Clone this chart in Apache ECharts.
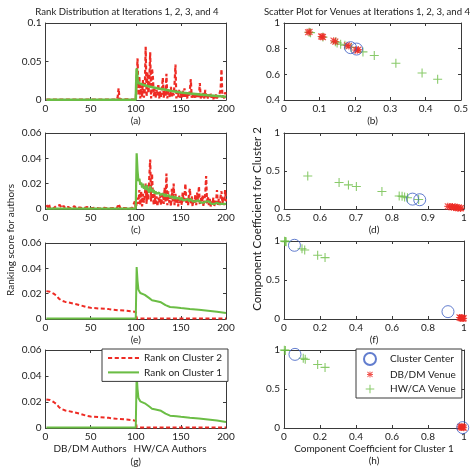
<!DOCTYPE html>
<html>
<head>
<meta charset="utf-8">
<script src="https://cdn.jsdelivr.net/npm/echarts@6/dist/echarts.min.js"></script>
<style>
html, body { margin: 0; padding: 0; background: #fff; }
#chart { width: 471px; height: 474px; }
</style>
</head>
<body>
<div id="chart"></div>
<script>
// ---- data ----
// left column: ranking score per author (authors 1..200)
// sparse parts are [author, score] pairs, dense parts are scores for authors 101..200
var redALow = [[1,0.0005],[40,0.0005],[79,0.0005],[80,0.004],[81,0.015],[82,0.001],[83,0.0005],[100,0.0005]];
var redAHigh = [
  0.003, 0.054, 0.006, 0.031, 0.002, 0.019, 0.004, 0.026, 0.003, 0.013,
  0.069, 0.004, 0.036, 0.009, 0.021, 0.062, 0.002, 0.041, 0.030, 0.005,
  0.016, 0.003, 0.013, 0.006, 0.021, 0.002, 0.011, 0.004, 0.015, 0.029,
  0.003, 0.012, 0.005, 0.034, 0.002, 0.013, 0.008, 0.004, 0.017, 0.003,
  0.011, 0.006, 0.021, 0.046, 0.002, 0.010, 0.004, 0.013, 0.003, 0.009,
  0.002, 0.012, 0.004, 0.015, 0.003, 0.008, 0.002, 0.010, 0.004, 0.013,
  0.027, 0.003, 0.009, 0.002, 0.007, 0.003, 0.010, 0.002, 0.008, 0.004,
  0.022, 0.002, 0.007, 0.003, 0.009, 0.002, 0.013, 0.003, 0.006, 0.002,
  0.007, 0.002, 0.008, 0.003, 0.006, 0.001, 0.005, 0.002, 0.007, 0.002,
  0.005, 0.003, 0.009, 0.013, 0.040, 0.003, 0.007, 0.002, 0.010, 0.004
];
var greenA = [[1,0.0004],[79,0.0004],[81,0.0015],[83,0.0004],[100,0.0004],[101,0.041],[102,0.027],[103,0.022],
  [105,0.020],[110,0.019],[115,0.0175],[120,0.0163],[125,0.015],[130,0.014],[140,0.0118],[150,0.0098],
  [160,0.0085],[170,0.0073],[180,0.0062],[190,0.0052],[200,0.0042]];

var redCLow = [[1,0.003],[2,0.004],[3,0.001],[4,0.0035],[5,0.0005],[7,0.002],[9,0.0005],[12,0.0025],[14,0.001],
  [16,0.003],[18,0.0008],[20,0.0025],[22,0.0006],[25,0.0015],[28,0.0004],[32,0.0022],[34,0.0005],[38,0.0012],
  [42,0.0004],[46,0.0015],[50,0.0005],[55,0.001],[60,0.0004],[65,0.0009],[70,0.0004],[75,0.0008],[79,0.0004],
  [81,0.004],[83,0.0005],[88,0.0008],[92,0.0003],[96,0.0007],[99,0.006],[100,0.0005]];
var redCHigh = [
  0.002, 0.009, 0.004, 0.015, 0.003, 0.014, 0.002, 0.012, 0.005, 0.010,
  0.020, 0.004, 0.019, 0.007, 0.025, 0.039, 0.006, 0.028, 0.011, 0.003,
  0.012, 0.004, 0.010, 0.002, 0.009, 0.005, 0.011, 0.003, 0.008, 0.013,
  0.004, 0.017, 0.006, 0.028, 0.003, 0.014, 0.005, 0.010, 0.002, 0.016,
  0.006, 0.020, 0.003, 0.012, 0.004, 0.009, 0.002, 0.011, 0.005, 0.008,
  0.003, 0.013, 0.006, 0.010, 0.020, 0.004, 0.009, 0.003, 0.012, 0.016,
  0.004, 0.010, 0.002, 0.008, 0.005, 0.011, 0.003, 0.013, 0.006, 0.018,
  0.003, 0.009, 0.005, 0.011, 0.002, 0.007, 0.012, 0.026, 0.004, 0.010,
  0.003, 0.008, 0.002, 0.006, 0.004, 0.009, 0.002, 0.007, 0.005, 0.015,
  0.003, 0.008, 0.002, 0.010, 0.014, 0.004, 0.009, 0.003, 0.015, 0.006
];
var greenCLow = [[1,0.0003],[79,0.0003],[81,0.0012],[83,0.0003],[100,0.0003]];
var greenCHigh = [
  0.044, 0.030, 0.022, 0.024, 0.019, 0.021, 0.017, 0.020, 0.016, 0.018,
  0.015, 0.019, 0.016, 0.017, 0.013, 0.018, 0.014, 0.016, 0.013, 0.015,
  0.012, 0.014, 0.012, 0.013, 0.011, 0.013, 0.011, 0.012, 0.010, 0.012,
  0.011, 0.010, 0.012, 0.010, 0.011, 0.009, 0.011, 0.009, 0.010, 0.009,
  0.010, 0.008, 0.009, 0.010, 0.008, 0.009, 0.008, 0.009, 0.007, 0.008,
  0.009, 0.007, 0.008, 0.008, 0.007, 0.008, 0.007, 0.008, 0.006, 0.007,
  0.008, 0.007, 0.006, 0.007, 0.007, 0.006, 0.007, 0.006, 0.007, 0.006,
  0.006, 0.005, 0.006, 0.006, 0.005, 0.006, 0.005, 0.006, 0.005, 0.005,
  0.006, 0.005, 0.005, 0.004, 0.005, 0.005, 0.004, 0.005, 0.004, 0.005,
  0.004, 0.005, 0.004, 0.004, 0.005, 0.004, 0.003, 0.004, 0.004, 0.004
];

// final iteration (panels e and g)
var redFinal = [[1,0.022],[5,0.0215],[9,0.020],[12,0.0185],[15,0.016],[18,0.0145],[22,0.0135],[27,0.0128],
  [32,0.012],[38,0.011],[45,0.0095],[50,0.0088],[60,0.0083],[70,0.0078],[80,0.007],[90,0.0065],[97,0.006],
  [100,0.0055],[101,0.0004],[200,0.0004]];
var greenFinal = [[1,0.0003],[79,0.0003],[81,0.0018],[83,0.0003],[100,0.0003],[101,0.041],[102,0.030],[103,0.023],
  [105,0.0205],[110,0.019],[115,0.0165],[118,0.0148],[122,0.0142],[128,0.0132],[133,0.011],[138,0.0095],
  [145,0.009],[150,0.0086],[160,0.0079],[170,0.0073],[180,0.0065],[190,0.0057],[200,0.0047]];

// right column: venues as [coef cluster 1, coef cluster 2]
var centerB = [[0.188,0.808],[0.205,0.797]];
var dbdmB = [[0.068,0.928],[0.072,0.930],[0.105,0.895],[0.110,0.890],[0.108,0.893],[0.140,0.862],[0.145,0.855],
  [0.178,0.826],[0.183,0.820],[0.202,0.790],[0.207,0.787],[0.210,0.793]];
var hwcaB = [[0.071,0.927],[0.075,0.925],[0.110,0.890],[0.145,0.853],[0.150,0.845],[0.160,0.835],[0.172,0.826],
  [0.190,0.810],[0.223,0.775],[0.255,0.747],[0.316,0.686],[0.390,0.610],[0.434,0.562]];

var centerD = [[0.857,0.130],[0.877,0.122]];
var dbdmD = [[0.955,0.035],[0.960,0.030],[0.965,0.025],[0.968,0.033],[0.972,0.020],[0.975,0.028],[0.978,0.015],
  [0.980,0.022],[0.983,0.012],[0.986,0.018],[0.990,0.008],[0.992,0.012]];
var hwcaD = [[0.566,0.435],[0.653,0.348],[0.679,0.317],[0.701,0.296],[0.772,0.230],[0.820,0.170],[0.828,0.168],
  [0.835,0.158],[0.843,0.148],[0.874,0.125]];

var centerF = [[0.058,0.945],[0.911,0.094]];
var dbdmF = [[0.975,0.020],[0.980,0.015],[0.985,0.012],[0.990,0.008],[0.995,0.005],[0.998,0.010],[0.988,0.018]];
var hwcaF = [[0.003,0.998],[0.008,0.995],[0.012,0.990],[0.100,0.900],[0.115,0.885],[0.187,0.817],[0.228,0.787]];

var centerH = [[0.061,0.944],[0.993,0.005]];
var dbdmH = [[0.978,0.015],[0.985,0.010],[0.990,0.005],[0.995,0.012],[0.998,0.003],[0.988,0.020]];
var hwcaH = [[0.002,0.998],[0.008,0.995],[0.107,0.895],[0.118,0.880],[0.187,0.815],[0.228,0.777]];

// ---- styling ----
var FONT = 'Lato';
var RED = '#ee2b24';
var GREEN = '#6bbd45';
var BLUE = '#3b5cc2';
var AXIS = '#3a3a3a';
var TEXT = '#222';

var PLUS = 'path://M4.4,0h1.2v10h-1.2z M0,4.4h10v1.2h-10z';
var STAR = 'path://M0,4.2h10v1.6h-10z M4.2,0h1.6v10h-1.6z M1.3,0.2L9.8,8.7L8.7,9.8L0.2,1.3z M8.7,0.2L9.8,1.3L1.3,9.8L0.2,8.7z';
// legend icons get empty margins so they stay small inside the legend row
var PLUS_LEG = 'path://M0,0h0.02v0.02h-0.02z M14,14h0.02v0.02h-0.02z M6.4,2h1.2v10h-1.2z M2,6.4h10v1.2h-10z';
var STAR_LEG = 'path://M0,0h0.02v0.02h-0.02z M20,20h0.02v0.02h-0.02z M5,9.2h10v1.6h-10z M9.2,5h1.6v10h-1.6z M6.3,5.2L14.8,13.7L13.7,14.8L5.2,6.3z M13.7,5.2L14.8,6.3L6.3,14.8L5.2,13.7z';
var DASH_LEG = 'path://M0,0h4v2h-4z M6.5,0h4v2h-4z M13,0h4v2h-4z M19.5,0h4v2h-4z M26,0h4v2h-4z';
var SOLID_LEG = 'path://M0,0h30v2h-30z';

function withAuthors(start, ys) {
  return ys.map(function (y, i) { return [start + i, y]; });
}

var grids = [
  {left: 45.5, top: 23, width: 180.5, height: 77},
  {left: 284, top: 23, width: 180, height: 77},
  {left: 45.5, top: 133, width: 180.5, height: 76},
  {left: 284, top: 133, width: 180, height: 76},
  {left: 45.5, top: 243, width: 180.5, height: 76},
  {left: 284, top: 241, width: 180, height: 78},
  {left: 45.5, top: 350, width: 180.5, height: 78},
  {left: 284, top: 350, width: 180, height: 78}
];

// [xmin, xmax, xstep, ymin, ymax, ystep, name under the panel, gap]
var ranges = [
  [0, 200, 50, 0, 0.1, 0.05, '(a)', 14],
  [0, 0.5, 0.1, 0.4, 1, 0.2, '(b)', 14],
  [0, 200, 50, 0, 0.06, 0.02, '(c)', 13],
  [0.5, 1, 0.1, 0, 1, 0.5, '(d)', 13],
  [0, 200, 50, 0, 0.06, 0.02, '(e)', 13],
  [0, 1, 0.2, 0, 1, 0.5, '(f)', 13],
  [0, 200, 50, 0, 0.06, 0.02, '(g)', 28],
  [0, 1, 0.2, 0, 1, 0.5, 'Component Coefficient for Cluster 1\n(h)', 15]
];

var xAxes = [], yAxes = [];
ranges.forEach(function (r, gi) {
  var line = {show: true, onZero: false, lineStyle: {color: AXIS, width: 1}};
  var tick = {show: true, inside: true, length: 3, lineStyle: {color: AXIS}};
  var label = {fontSize: 10, fontFamily: FONT, color: TEXT, margin: 4};
  xAxes.push({
    gridIndex: gi, type: 'value', position: 'bottom', min: r[0], max: r[1], interval: r[2],
    axisLine: line, axisTick: tick, axisLabel: label, splitLine: {show: false},
    name: r[6], nameLocation: 'middle', nameGap: r[7],
    nameTextStyle: {fontSize: 10, fontFamily: FONT, color: TEXT, lineHeight: 12}
  });
  xAxes.push({
    gridIndex: gi, type: 'value', position: 'top', min: r[0], max: r[1], interval: r[2],
    axisLine: line, axisTick: tick, axisLabel: {show: false}, splitLine: {show: false}
  });
  yAxes.push({
    gridIndex: gi, type: 'value', position: 'left', min: r[3], max: r[4], interval: r[5],
    axisLine: line, axisTick: tick, axisLabel: label, splitLine: {show: false}
  });
  yAxes.push({
    gridIndex: gi, type: 'value', position: 'right', min: r[3], max: r[4], interval: r[5],
    axisLine: line, axisTick: tick, axisLabel: {show: false}, splitLine: {show: false}
  });
});

function lineSeries(gi, name, data, color, dashed, width) {
  return {
    type: 'line', name: name, xAxisIndex: gi * 2, yAxisIndex: gi * 2, data: data,
    symbol: 'none', animation: false, silent: true,
    lineStyle: {color: color, width: width, type: dashed ? [4, 2.5] : 'solid', cap: 'butt'},
    itemStyle: {color: color}
  };
}

function scatterSeries(gi, name, data, kind) {
  var s = {type: 'scatter', name: name, xAxisIndex: gi * 2, yAxisIndex: gi * 2, data: data,
    animation: false, silent: true};
  if (kind === 'center') {
    s.symbol = 'circle'; s.symbolSize = 12; s.z = 4;
    s.itemStyle = {color: 'rgba(255,255,255,0)', borderColor: BLUE, borderWidth: 1};
  } else if (kind === 'dbdm') {
    s.symbol = STAR; s.symbolSize = 7; s.z = 3;
    s.itemStyle = {color: RED};
  } else {
    s.symbol = PLUS; s.symbolSize = 9; s.z = 3;
    s.itemStyle = {color: GREEN};
  }
  return s;
}

var series = [
  lineSeries(0, 'a-c2', redALow.concat(withAuthors(101, redAHigh)), RED, true, 2.2),
  lineSeries(0, 'a-c1', greenA, GREEN, false, 2.6),
  lineSeries(2, 'c-c2', redCLow.concat(withAuthors(101, redCHigh)), RED, true, 2.2),
  lineSeries(2, 'c-c1', greenCLow.concat(withAuthors(101, greenCHigh)), GREEN, false, 2.2),
  lineSeries(4, 'e-c2', redFinal, RED, true, 2),
  lineSeries(4, 'e-c1', greenFinal, GREEN, false, 2),
  lineSeries(6, 'Rank on Cluster 2', redFinal, RED, true, 2),
  lineSeries(6, 'Rank on Cluster 1', greenFinal, GREEN, false, 2),

  scatterSeries(1, 'b-hw', hwcaB, 'hwca'),
  scatterSeries(1, 'b-db', dbdmB, 'dbdm'),
  scatterSeries(1, 'b-center', centerB, 'center'),
  scatterSeries(3, 'd-hw', hwcaD, 'hwca'),
  scatterSeries(3, 'd-db', dbdmD, 'dbdm'),
  scatterSeries(3, 'd-center', centerD, 'center'),
  scatterSeries(5, 'f-hw', hwcaF, 'hwca'),
  scatterSeries(5, 'f-db', dbdmF, 'dbdm'),
  scatterSeries(5, 'f-center', centerF, 'center'),
  scatterSeries(7, 'HW/CA Venue', hwcaH, 'hwca'),
  scatterSeries(7, 'DB/DM Venue', dbdmH, 'dbdm'),
  scatterSeries(7, 'Cluster Center', centerH, 'center')
];

var legendText = {fontSize: 10, fontFamily: FONT, color: TEXT, lineHeight: 12};

var option = {
  backgroundColor: '#fff',
  animation: false,
  grid: grids,
  xAxis: xAxes,
  yAxis: yAxes,
  series: series,
  legend: [
    {
      data: [
        {name: 'Rank on Cluster 2', icon: DASH_LEG, itemStyle: {color: RED}},
        {name: 'Rank on Cluster 1', icon: SOLID_LEG, itemStyle: {color: GREEN}}
      ],
      orient: 'vertical', left: 102, top: 349, itemWidth: 31, itemHeight: 12, itemGap: 2.4,
      padding: [3, 6, 3, 6], borderColor: AXIS, borderWidth: 1, borderRadius: 0,
      backgroundColor: '#fff', selectedMode: false, textStyle: legendText, z: 10
    },
    {
      data: [
        {name: 'Cluster Center', icon: 'circle'},
        {name: 'DB/DM Venue', icon: STAR_LEG},
        {name: 'HW/CA Venue', icon: PLUS_LEG}
      ],
      orient: 'vertical', left: 356, top: 349, itemWidth: 30, itemHeight: 12, itemGap: 2.5,
      padding: [3, 6, 3, 7], borderColor: AXIS, borderWidth: 1, borderRadius: 0,
      backgroundColor: '#fff', selectedMode: false, textStyle: legendText, z: 10
    }
  ],
  graphic: [
    {type: 'text', x: 127, y: 12, style: {text: 'Rank Distribution at Iterations 1, 2, 3, and 4',
      fontSize: 9.6, fontFamily: FONT, fill: TEXT, align: 'center', verticalAlign: 'middle'}},
    {type: 'text', x: 367, y: 12, style: {text: 'Scatter Plot for Venues at Iterations 1, 2, 3, and 4',
      fontSize: 9.6, fontFamily: FONT, fill: TEXT, align: 'center', verticalAlign: 'middle'}},
    {type: 'text', x: 11, y: 240, rotation: Math.PI / 2, style: {text: 'Ranking score for authors',
      fontSize: 10, fontFamily: FONT, fill: TEXT, align: 'center', verticalAlign: 'middle'}},
    {type: 'text', x: 257, y: 219, rotation: Math.PI / 2, style: {text: 'Component Coefficient for Cluster 2',
      fontSize: 11.5, fontFamily: FONT, fill: TEXT, align: 'center', verticalAlign: 'middle'}},
    {type: 'text', x: 90, y: 449, style: {text: 'DB/DM Authors',
      fontSize: 10, fontFamily: FONT, fill: TEXT, align: 'center', verticalAlign: 'middle'}},
    {type: 'text', x: 170, y: 449, style: {text: 'HW/CA Authors',
      fontSize: 10, fontFamily: FONT, fill: TEXT, align: 'center', verticalAlign: 'middle'}}
  ]
};

var chart = echarts.init(document.getElementById('chart'), null, {renderer: 'canvas'});
chart.setOption(option);
</script>
</body>
</html>
